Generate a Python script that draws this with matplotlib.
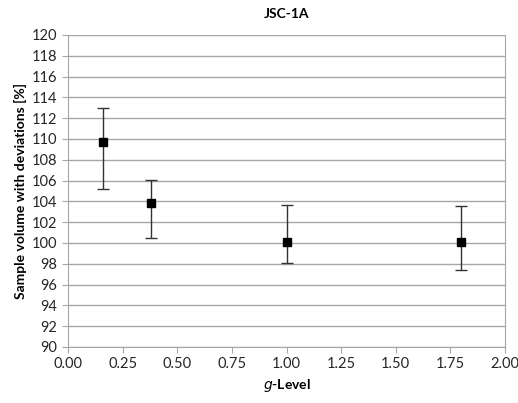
import numpy as np
import matplotlib.pyplot as plt

# data
g_level = [0.16, 0.38, 1.00, 1.80]
volume = [109.7, 103.8, 100.1, 100.1]
err_up = [113.0, 106.1, 103.7, 103.6]
err_low = [105.2, 100.5, 98.1, 97.4]

yerr = [np.array(volume) - np.array(err_low), np.array(err_up) - np.array(volume)]

plt.rcParams['font.family'] = ['Lato', 'DejaVu Sans']
fig = plt.figure(figsize=(5.18, 4.03), dpi=100)
ax = fig.add_axes([68 / 518, 1 - 347 / 403, (505 - 68) / 518, (347 - 35) / 403])

ax.errorbar(g_level, volume, yerr=yerr, fmt='s', color='black', markersize=6,
            ecolor='#333333', elinewidth=1, capsize=4, capthick=1, zorder=3)

ax.set_xlim(0, 2)
ax.set_ylim(90, 120)
ax.set_xticks(np.arange(0, 2.01, 0.25))
ax.set_xticklabels([f'{v:.2f}' for v in np.arange(0, 2.01, 0.25)])
ax.set_yticks(np.arange(90, 121, 2))
ax.yaxis.grid(True, color='#a6a6a6', linewidth=1)
ax.set_axisbelow(True)
for s in ['left', 'bottom', 'right', 'top']:
    ax.spines[s].set_color('#a6a6a6')
ax.spines['top'].set_visible(False)
ax.tick_params(axis='both', colors='#a6a6a6', labelcolor='#262626', labelsize=10.5, length=4)

ax.set_title('JSC-1A', fontsize=10, fontweight='bold', pad=12)
ax.set_xlabel('$\\bf{\\it{g}}$-Level', fontsize=10, fontweight='bold')
ax.set_ylabel('Sample volume with deviations [%]', fontsize=10, fontweight='bold')

plt.savefig('out.png', dpi=100)
